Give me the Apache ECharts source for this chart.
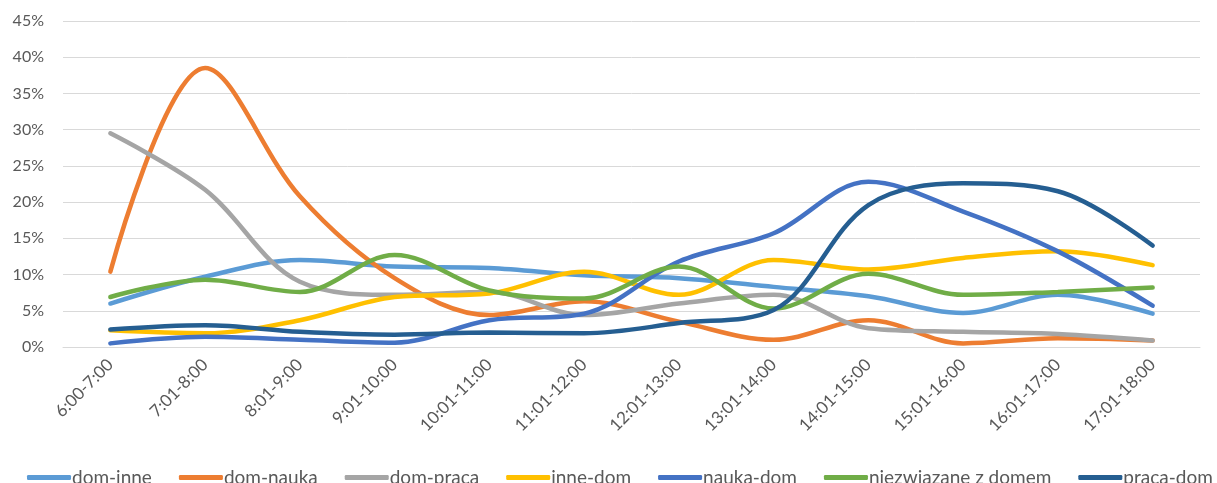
<!DOCTYPE html>
<html>
<head>
<meta charset="utf-8">
<script src="https://cdn.jsdelivr.net/npm/echarts@6/dist/echarts.min.js"></script>
<style>
  html, body { margin: 0; padding: 0; background: #fff; }
  #chart { width: 1217px; height: 483px; }
</style>
</head>
<body>
<div id="chart"></div>
<script>
  // time slots on the x axis
  var hours = ['6:00-7:00', '7:01-8:00', '8:01-9:00', '9:01-10:00', '10:01-11:00', '11:01-12:00',
    '12:01-13:00', '13:01-14:00', '14:01-15:00', '15:01-16:00', '16:01-17:00', '17:01-18:00'];

  // shares in percent
  var domInne = [6.0, 9.7, 12.0, 11.1, 10.9, 9.9, 9.5, 8.3, 7.0, 4.7, 7.2, 4.6];
  var domNauka = [10.4, 38.5, 20.8, 9.5, 4.4, 6.3, 3.5, 1.0, 3.7, 0.5, 1.2, 0.9];
  var domPraca = [29.5, 21.7, 9.0, 7.2, 7.6, 4.4, 6.0, 7.2, 2.6, 2.1, 1.8, 0.9];
  var inneDom = [2.3, 1.9, 3.7, 6.9, 7.4, 10.4, 7.2, 12.0, 10.7, 12.3, 13.2, 11.3];
  var naukaDom = [0.5, 1.4, 1.0, 0.6, 3.7, 4.6, 11.8, 15.7, 22.8, 18.7, 13.2, 5.7];
  var niezwiazane = [6.9, 9.3, 7.6, 12.7, 7.8, 6.7, 11.1, 5.3, 10.1, 7.2, 7.6, 8.2];
  var pracaDom = [2.4, 3.0, 2.1, 1.7, 2.0, 1.9, 3.3, 5.1, 19.6, 22.6, 21.5, 14.0];

  var yTicks = [0, 5, 10, 15, 20, 25, 30, 35, 40, 45];

  var names = ['dom-inne', 'dom-nauka', 'dom-praca', 'inne-dom', 'nauka-dom', 'niezwiazane z domem', 'praca-dom'];
  var values = [domInne, domNauka, domPraca, inneDom, naukaDom, niezwiazane, pracaDom];
  var colors = ['#5B9BD5', '#ED7D31', '#A5A5A5', '#FFC000', '#4472C4', '#70AD47', '#255E91'];

  var chart = echarts.init(document.getElementById('chart'));

  var series = names.map(function (n, i) {
    return {
      name: n,
      type: 'line',
      smooth: 0.35,
      symbol: 'none',
      data: values[i],
      lineStyle: { width: 4.5, color: colors[i], cap: 'round' },
      itemStyle: { color: colors[i] }
    };
  });

  chart.setOption({
    animation: false,
    textStyle: { fontFamily: 'Lato' },
    grid: { left: 63, right: 17, top: 21, bottom: 136 },
    legend: {
      top: 468,
      left: 27,
      width: 1190,
      padding: 0,
      itemWidth: 44,
      itemHeight: 5,
      itemGap: 27,
      icon: 'roundRect',
      textStyle: { color: '#595959', fontSize: 19, fontFamily: 'Lato', padding: [0, 0, 0, -4] },
      data: names
    },
    xAxis: {
      type: 'category',
      data: hours,
      boundaryGap: true,
      axisLine: { lineStyle: { color: '#d9d9d9', width: 1 } },
      axisTick: { show: false },
      axisLabel: { rotate: 45, color: '#595959', fontSize: 17, margin: 15, interval: 0 }
    },
    yAxis: {
      type: 'value',
      min: yTicks[0],
      max: yTicks[yTicks.length - 1],
      interval: 5,
      axisLine: { show: false },
      axisTick: { show: false },
      splitLine: { lineStyle: { color: '#d9d9d9', width: 1 } },
      axisLabel: { color: '#595959', fontSize: 16, margin: 19, formatter: '{value}%' }
    },
    series: series
  });
</script>
</body>
</html>
